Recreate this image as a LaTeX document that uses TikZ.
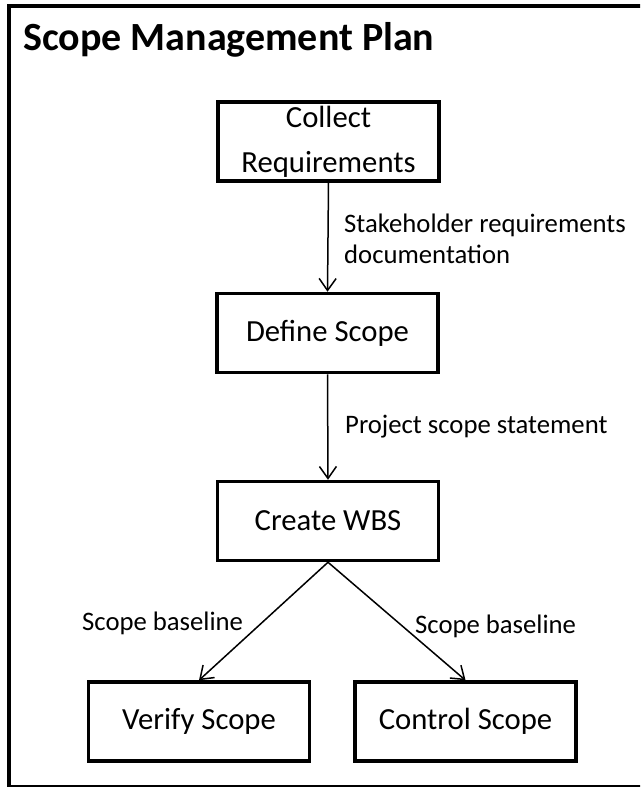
\documentclass[tikz,border=0pt]{standalone}
\usepackage{fontspec}
\setmainfont{Carlito}
\usetikzlibrary{arrows.meta}
\tikzset{
  procbox/.style={draw, line width=3.5pt, minimum width=221pt, minimum height=79pt, inner sep=0pt, align=center, font=\fontsize{30.7}{45}\selectfont},
  flowarrow/.style={line width=1.5pt, -{Straight Barb[length=12pt,width=17pt,line width=1.5pt]}},
  flowlabel/.style={inner sep=0pt, align=left, font=\fontsize{26.7}{31}\selectfont},
  frameline/.style={line width=4pt}
}
\begin{document}
\begin{tikzpicture}[x=1pt,y=-1pt]
\useasboundingbox (0,0) rectangle (640,787);
\clip (0,0) rectangle (640,787);
\draw[frameline] (9,6) rectangle (680,787);
\node[anchor=base west, inner sep=0pt, font=\fontsize{40}{46}\selectfont\bfseries] (title) at (23,50) {Scope Management Plan};
\node[procbox] (collect) at (328.5,141.5) {\raisebox{-2pt}{Collect}\\\raisebox{-2pt}{Requirements}};
\node[procbox] (define) at (327.5,333) {Define Scope};
\node[procbox] (create) at (328,521) {Create WBS};
\node[procbox] (verify) at (199,721.5) {Verify Scope};
\node[procbox] (control) at (465.5,721.5) {Control Scope};
\draw[flowarrow] (collect.south) -- (define.north);
\draw[flowarrow] (define.south) -- (create.north);
\draw[flowarrow] (create.south) -- (verify.north);
\draw[flowarrow] (create.south) -- (control.north);
\node[flowlabel, anchor=west] (lab1) at (344,238.5) {Stakeholder requirements\\documentation};
\node[flowlabel, anchor=west] (lab2) at (345,427) {Project scope statement};
\node[flowlabel, anchor=west] (lab3) at (82,623) {Scope baseline};
\node[flowlabel, anchor=west] (lab4) at (415,626) {Scope baseline};
\end{tikzpicture}
\end{document}
